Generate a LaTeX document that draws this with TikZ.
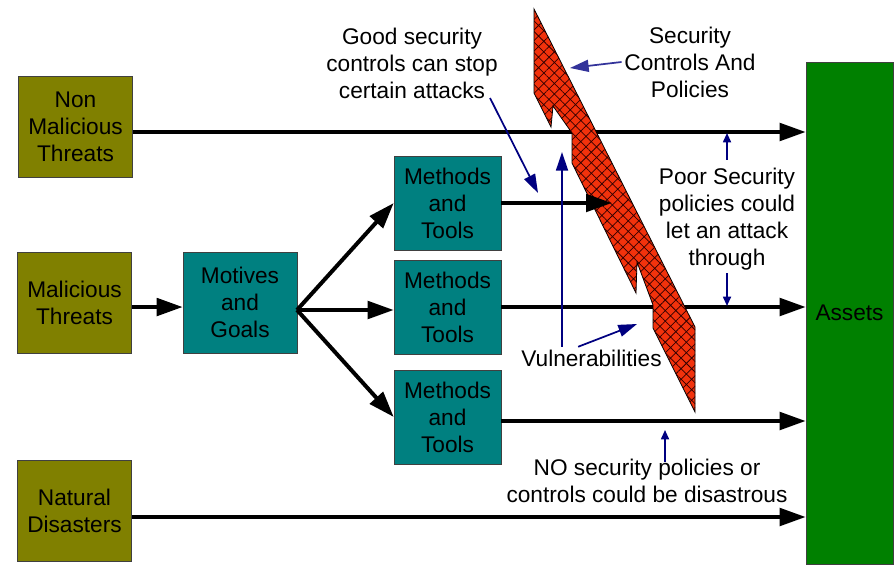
\documentclass[tikz,border=0pt]{standalone}
\usepackage{fontspec}
\setmainfont{Liberation Sans}
\usepackage{xcolor}
\usetikzlibrary{positioning,arrows.meta,patterns.meta}

\definecolor{threat}{RGB}{128,128,0}
\definecolor{stage}{RGB}{0,128,128}
\definecolor{asset}{RGB}{0,128,0}
\definecolor{wallred}{RGB}{242,50,12}
\definecolor{note}{RGB}{0,0,128}

\begin{document}
\begin{tikzpicture}[x=0.75pt, y=-0.75pt, font=\fontsize{17}{20.25}\selectfont]
    \tikzstyle{block} = [draw=black!75, rectangle, align=center, inner sep=1pt]
    \tikzstyle{threatbox} = [block, fill=threat, minimum width=85.5pt, minimum height=76pt]
    \tikzstyle{stagebox} = [block, fill=stage, minimum width=80.25pt, minimum height=70.5pt]
    \tikzstyle{label} = [align=center, inner sep=2pt]
    \tikzstyle{flow} = [-{Triangle[length=19.5pt, width=13pt]}, line width=3pt]
    \tikzstyle{callout} = [-{Triangle[length=14pt, width=9pt]}, note, line width=1.3pt]
    \tikzstyle{pointer} = [-{Triangle[length=7pt, width=6pt]}, note, line width=1.3pt]

    \useasboundingbox (0,0) rectangle (895,564);

    % threats
    \node[threatbox] (nonmal) at (75.5,127) {Non\\Malicious\\Threats};
    \node[threatbox] (mal) at (74.5,302.5) {Malicious\\Threats};
    \node[threatbox] (natural) at (74.5,511) {Natural\\Disasters};

    % attack path
    \node[block, fill=stage, minimum width=85.5pt, minimum height=75.75pt] (motives) at (240,302.5) {Motives\\and\\Goals};
    \node[stagebox] (tools1) at (447.5,203) {Methods\\and\\Tools};
    \node[stagebox] (tools2) at (447.5,307) {Methods\\and\\Tools};
    \node[stagebox] (tools3) at (447.5,417) {Methods\\and\\Tools};

    \node[block, fill=asset, minimum width=65.25pt, minimum height=376.5pt] (assets) at (849.5,313) {Assets};

    \coordinate (stop) at (612,203);
    \coordinate (fan) at (297,310);

    % attacks that get through (under the wall)
    \draw[flow] ([yshift=-3.75pt]nonmal.east) -- ([yshift=-3.75pt]nonmal.east -| assets.west);
    \draw[flow] (tools2.east) -- (tools2.east -| assets.west);

    % the wall of controls
    \draw[black, line width=0.6pt, fill=wallred, postaction={pattern={Hatch[angle=45, distance=5.6pt, line width=0.55pt]}, pattern color=black!80!red}]
        (534,9) -- (534,93) -- (551,127) -- (553,106) -- (572,133) -- (572,163)
        -- (636,293) -- (637,262) -- (653,305) -- (653,328) -- (695,412)
        -- (695,327) -- cycle;

    \draw[flow] ([yshift=-3.4pt]mal.east) -- ([yshift=-3.4pt]motives.west);
    \draw[flow] (fan) -- (tools1.west);
    \draw[flow] (fan) -- (fan -| tools2.west);
    \draw[flow] (fan) -- (tools3.west);
    \draw[flow] (tools1.east) -- (tools1.east -| stop);
    \draw[flow] ([yshift=-3pt]tools3.east) -- ([yshift=-3pt]tools3.east -| assets.west);
    \draw[flow] ([yshift=-4.5pt]natural.east) -- ([yshift=-4.5pt]natural.east -| assets.west);

    % notes
    \node[label] (good) at (412,63) {Good security\\controls can stop\\certain attacks};
    \node[label] (wall) at (690,62) {Security\\Controls And\\Policies};
    \node[label] (poor) at (727,219) {Poor Security\\policies could\\let an attack\\through};
    \node[label] (vuln) at (591.5,358) {Vulnerabilities};
    \node[label] (nosec) at (647,481) {NO security policies or\\controls could be disastrous};

    \coordinate (goodend) at (490,98);
    \coordinate (goodtip) at (538,193);
    \coordinate (walltip) at (570,68);
    \coordinate (gap1) at (562,152);
    \coordinate (gap2) at (637,324);
    \coordinate (poorup) at (727,133);
    \coordinate (poordown) at (727,306);
    \coordinate (noseclow) at (665,430);

    \draw[callout, note!80!white] (wall.west) -- (walltip);
    \draw[callout] (goodend) -- (goodtip);
    \draw[callout] (vuln.north -| gap1) -- (gap1);
    \draw[callout] ([xshift=-10pt]vuln.north) -- (gap2);
    \draw[pointer] ([yshift=4pt]poor.north) -- (poorup);
    \draw[pointer] (poor.south) -- (poordown);
    \draw[pointer] ([yshift=-4.5pt]nosec.north -| noseclow) -- (noseclow);
\end{tikzpicture}
\end{document}
